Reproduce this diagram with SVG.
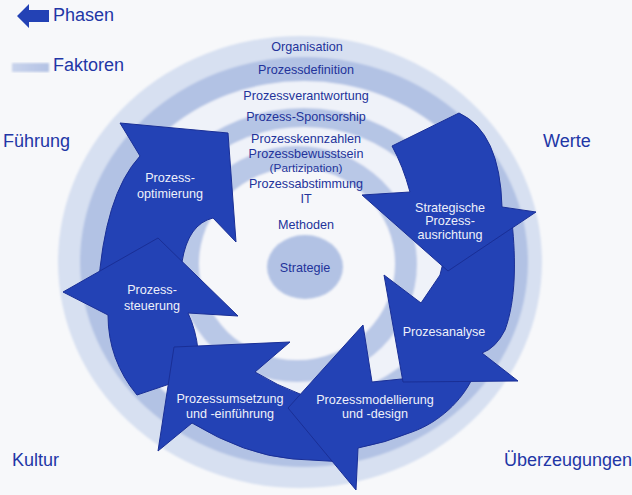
<svg xmlns="http://www.w3.org/2000/svg" width="632" height="495" viewBox="0 0 632 495">
<style>
.lbl{font-family:"Liberation Sans",Arial,sans-serif;font-size:18px;fill:#2236a6}
.ring{font-family:"Liberation Sans",Arial,sans-serif;font-size:12.6px;fill:#23339a;text-anchor:middle}
.sm{font-size:11.8px}
.at{font-family:"Liberation Sans",Arial,sans-serif;font-size:12.6px;fill:#eef0fa;text-anchor:middle}
.arrow{fill:#2342b5;stroke:#1a2f96;stroke-width:1;stroke-linejoin:miter}
</style>
<defs>
<filter id="soft" x="-5%" y="-5%" width="110%" height="110%"><feGaussianBlur stdDeviation="1.2"/></filter>
<linearGradient id="fak" x1="0" x2="1" y1="0" y2="0"><stop offset="0" stop-color="#c9d4ec"/><stop offset="1" stop-color="#b3c2e4"/></linearGradient>
</defs>
<rect width="632" height="495" fill="#f7f8fa"/>
<g id="rings" filter="url(#soft)">
<ellipse cx="300" cy="262" rx="242" ry="226" fill="#d7e0f1"/>
<ellipse cx="304" cy="262" rx="224" ry="205" fill="#b2c2e4"/>
<ellipse cx="304" cy="262" rx="200" ry="181" fill="#eff2f9"/>
<ellipse cx="304" cy="263" rx="168" ry="155" fill="#b5c5e5"/>
<ellipse cx="304" cy="263" rx="148" ry="136" fill="#eff2f9"/>
<ellipse cx="297" cy="264" rx="120" ry="118" fill="#b9c8e7"/>
<ellipse cx="297" cy="264" rx="98" ry="96" fill="#f6f7fa"/>
</g>
<g id="strategie">
<ellipse cx="305" cy="267" rx="38" ry="32" fill="#b2c2e4" filter="url(#soft)"/>
<text class="ring" x="305" y="272">Strategie</text>
</g>
<g id="faktoren-texte">
<text class="ring" x="307" y="51">Organisation</text>
<text class="ring" x="306" y="73.5">Prozessdefinition</text>
<text class="ring" x="306" y="99.5">Prozessverantwortung</text>
<text class="ring" x="306" y="121">Prozess-Sponsorship</text>
<text class="ring" x="306" y="142.5">Prozesskennzahlen</text>
<text class="ring" x="306" y="157.5">Prozessbewusstsein</text>
<text class="ring sm" x="306" y="172">(Partizipation)</text>
<text class="ring" x="306" y="188">Prozessabstimmung</text>
<text class="ring" x="306" y="202.5">IT</text>
<text class="ring" x="306" y="228.5">Methoden</text>
</g>
<g id="connectors">
<g id="optimierung">
<path class="arrow" d="M228,133 L236,242 L213,218 Q188,224 182,262 L186,290 L98,292 Q104,195 140,156 L120,123 Z"/>
<text class="at" x="170" y="182">Prozess-</text>
<text class="at" x="170" y="197.5">optimierung</text>
</g>
<g id="steuerung">
<path class="arrow" d="M158,238 L238,316 L188,313 Q196,330 198,350 L205,372 L137,395 Q108,360 108,315 L63,292 Z"/>
<text class="at" x="152" y="294">Prozess-</text>
<text class="at" x="152" y="309.5">steuerung</text>
</g>
<g id="umsetzung">
<path class="arrow" d="M174,347 L290,342 L255,372 Q278,386 300,394 L340,420 L345,462 L293,459 Q245,455 192,423 L158,451 Z"/>
<text class="at" x="230" y="402.5">Prozessumsetzung</text>
<text class="at" x="230" y="417.5">und -einführung</text>
</g>
<g id="modellierung">
<path class="arrow" d="M363,325 L372,382 L470,372 L472,379 C462,400 440,422 412,432 Q385,443 358,448 L356,490 L288,408 Z"/>
<text class="at" x="375" y="403.5">Prozessmodellierung</text>
<text class="at" x="375" y="418">und -design</text>
</g>
<g id="analyse">
<path class="arrow" d="M445,255 L440,275 L421,303 L384,275 L403,382 L518,381 L482,353 Q496,348 505,330 C516,300 516,260 512,222 Z"/>
<text class="at" x="444" y="336">Prozesanalyse</text>
</g>
<g id="ausrichtung">
<path class="arrow" d="M392,146 L459,113 Q500,132 502,207 L536,212 L448,271 L362,195 L410,192 Q403,166 392,146 Z"/>
<text class="at" x="450" y="212">Strategische</text>
<text class="at" x="450" y="225">Prozess-</text>
<text class="at" x="450" y="238.5">ausrichtung</text>
</g>
</g>
<g id="legende">
<polygon points="17,16 29,4 29,10 49,10 49,22 29,22 29,28" fill="#2342b5"/>
<text class="lbl" x="53" y="21">Phasen</text>
<rect x="12" y="63" width="37" height="9" fill="url(#fak)" filter="url(#soft)"/>
<text class="lbl" x="53" y="71">Faktoren</text>
</g>
<g id="ecken">
<text class="lbl" x="3" y="147">Führung</text>
<text class="lbl" x="543" y="147">Werte</text>
<text class="lbl" x="12" y="466">Kultur</text>
<text class="lbl" x="504" y="466">Überzeugungen</text>
</g>
</svg>
